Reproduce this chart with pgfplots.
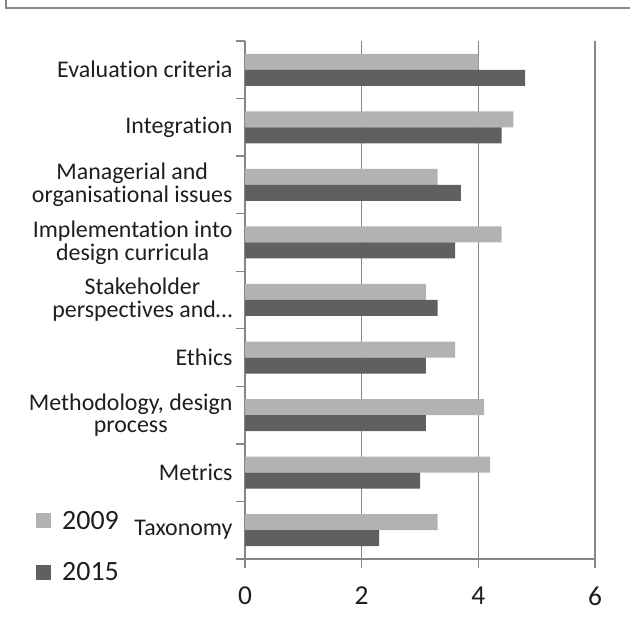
\documentclass[border=0pt]{standalone}
\usepackage{fontspec}
\setmainfont{Carlito}[Ligatures=NoCommon]
\usepackage{pgfplots}
\pgfplotsset{compat=1.18}
\definecolor{barA}{RGB}{178,178,178}
\definecolor{barB}{RGB}{96,96,96}
\definecolor{axgray}{RGB}{134,134,134}
\definecolor{txt}{RGB}{30,30,30}
\begin{document}
\begin{tikzpicture}[x=1bp,y=1bp]
\useasboundingbox (0,0) rectangle (630,627);
\draw[axgray,line width=2bp] (5.5,627) -- (5.5,618.5) -- (630,618.5);
\begin{axis}[
  at={(245bp,68bp)}, anchor=south west,
  scale only axis, width=350bp, height=518bp,
  xmin=0, xmax=6, ymin=0.5, ymax=9.5,
  axis x line*=bottom, axis y line*=left,
  axis line style={axgray, line width=1.3bp},
  xtick={0,2,4,6}, minor xtick={0,2,4,6},
  ytick={1,2,3,4,5,6,7,8,9}, minor ytick={0.5,1.5,2.5,3.5,4.5,5.5,6.5,7.5,8.5,9.5},
  major tick length=0pt, minor tick length=9bp,
  tick align=outside,
  tick style={axgray, line width=1.3bp},
  xmajorgrids, grid style={axgray, line width=1.3bp},
  /pgf/number format/assume math mode=true,
  xticklabel style={font=\fontsize{27.5}{27.5}\selectfont, text=txt, yshift=-24bp},
  yticklabel style={font=\fontsize{24}{23}\selectfont, text=txt, align=center, xshift=-9bp},
  yticklabels={Taxonomy, Metrics, {Methodology, design\\process}, Ethics, {Stakeholder\\perspectives and\ldots}, {Implementation into\\design curricula}, {Managerial and\\organisational issues}, Integration, Evaluation criteria},
  xbar, bar width=16bp,
  legend style={at={(-0.597,0.097)}, anchor=north west, draw=none, fill=none,
    font=\fontsize{28}{28}\selectfont, text=txt, row sep=28bp, inner sep=0pt,
    /tikz/every odd column/.append style={column sep=9bp}},
  legend cell align=left,
  legend image code/.code={\fill[#1] (0bp,-7.5bp) rectangle (15bp,7.5bp);},
]
\addplot[fill=barA, draw=none, bar shift=8bp] coordinates {
  (3.3,1) (4.2,2) (4.1,3) (3.6,4) (3.1,5) (4.4,6) (3.3,7) (4.6,8) (4.0,9)};
\addplot[fill=barB, draw=none, bar shift=-8bp] coordinates {
  (2.3,1) (3.0,2) (3.1,3) (3.1,4) (3.3,5) (3.6,6) (3.7,7) (4.4,8) (4.8,9)};
\legend{2009, 2015}
\end{axis}
\end{tikzpicture}
\end{document}
